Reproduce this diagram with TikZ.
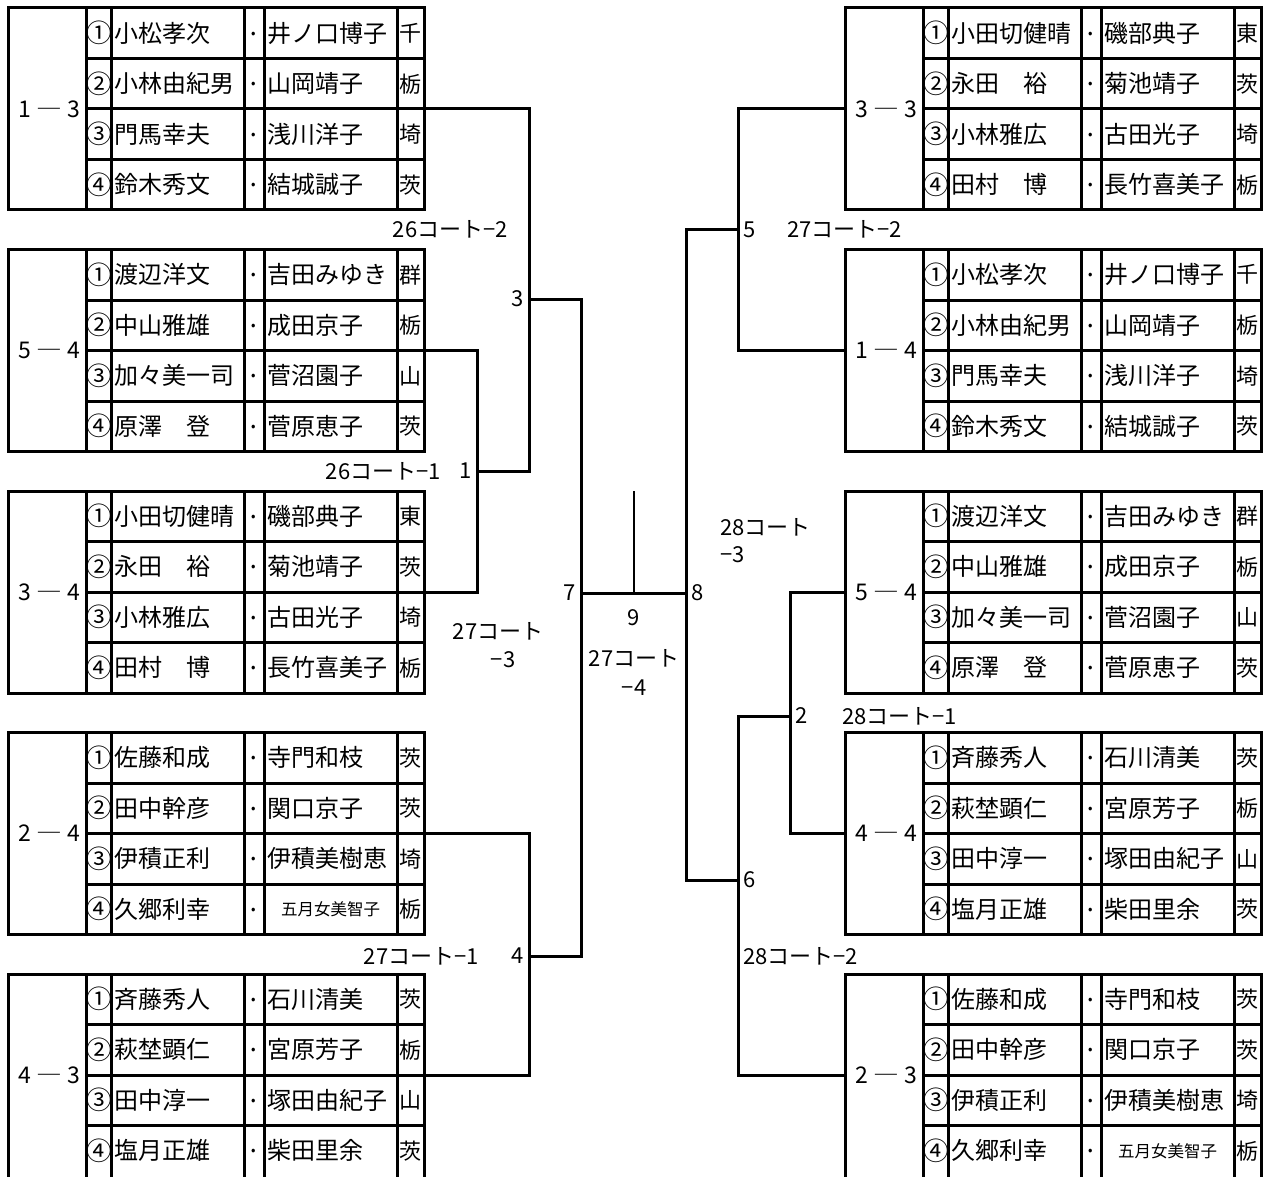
\documentclass[tikz,border=0pt]{standalone}
\usepackage{fontspec}
\usepackage{graphicx}
\setmainfont{Noto Sans CJK JP}
\usetikzlibrary{calc}
\def\bh{202}
\tikzset{
  grid/.style={line width=3pt},
  conn/.style={line width=3pt},
  thinconn/.style={line width=2pt},
  blockbox/.style={draw, line width=3pt, minimum width=416pt, minimum height=\bh pt, inner sep=0pt, outer sep=0pt},
  nametxt/.style={anchor=west, inner sep=0pt, font=\fontsize{24}{26}\selectfont},
  circtxt/.style={inner sep=0pt, font=\fontsize{25.5}{26}\selectfont},
  dottxt/.style={inner sep=0pt, font=\fontsize{26}{26}\selectfont},
  preftxt/.style={inner sep=0pt, font=\fontsize{22}{26}\selectfont},
  scoretxt/.style={inner sep=0pt, font=\fontsize{23}{26}\selectfont},
  lbl/.style={inner sep=0pt, font=\fontsize{22}{26}\selectfont},
}
\newcommand\sdash{\scalebox{1.12}[1]{―}}
\newcommand\smallnm[1]{\makebox[127pt][c]{\fontsize{16.5}{18}\selectfont #1}}
\newcommand\teamA{小松孝次/井ノ口博子/千,小林由紀男/山岡靖子/栃,門馬幸夫/浅川洋子/埼,鈴木秀文/結城誠子/茨}
\newcommand\teamB{渡辺洋文/吉田みゆき/群,中山雅雄/成田京子/栃,加々美一司/菅沼園子/山,原澤　登/菅原恵子/茨}
\newcommand\teamC{小田切健晴/磯部典子/東,永田　裕/菊池靖子/茨,小林雅広/古田光子/埼,田村　博/長竹喜美子/栃}
\newcommand\teamD{佐藤和成/寺門和枝/茨,田中幹彦/関口京子/茨,伊積正利/伊積美樹恵/埼,久郷利幸/\smallnm{五月女美智子}/栃}
\newcommand\teamE{斉藤秀人/石川清美/茨,萩埜顕仁/宮原芳子/栃,田中淳一/塚田由紀子/山,塩月正雄/柴田里余/茨}
\newcommand\teamblock[5]{%
  \node[blockbox, anchor=north west] (#1) at (#2,#3) {};
  \begin{scope}[shift={(#1.north west)}]
    \foreach \cx in {78,103,236,256,389} \draw[grid] (\cx,0) -- (\cx,\bh);
    \foreach \ry in {1,2,3} \draw[grid] (78,\ry*50.5) -- (416,\ry*50.5);
    \coordinate (#1w) at (0,101);
    \coordinate (#1e) at (416,101);
    \node[scoretxt] (#1s) at (41,101) {#4};
    \foreach \nm/\pt/\pf [count=\i] in #5 {
      \node[circtxt] (#1c\i) at (91,{(\i-0.5)*50.5}) {\ifcase\i\or ①\or ②\or ③\or ④\fi};
      \node[nametxt] (#1n\i) at (106,{(\i-0.5)*50.5}) {\nm};
      \node[dottxt] (#1d\i) at (246,{(\i-0.5)*50.5}) {\vphantom{字}·};
      \node[nametxt] (#1p\i) at (259,{(\i-0.5)*50.5}) {\pt};
      \node[preftxt] (#1f\i) at (402.5,{(\i-0.5)*50.5}) {\pf};
    }
  \end{scope}
}
\begin{document}
\begin{tikzpicture}[x=1pt,y=-1pt]
\useasboundingbox (0,0) rectangle (1269,1177);
\clip (0,0) rectangle (1269,1177);
% left blocks
\teamblock{L1}{8}{8}{1 \sdash{} 3}{\teamA}
\teamblock{L2}{8}{249.5}{5 \sdash{} 4}{\teamB}
\teamblock{L3}{8}{491}{3 \sdash{} 4}{\teamC}
\teamblock{L4}{8}{732.5}{2 \sdash{} 4}{\teamD}
\def\bh{215}
\teamblock{L5}{8}{974}{4 \sdash{} 3}{\teamE}
\def\bh{202}
% right blocks
\teamblock{R1}{845}{8}{3 \sdash{} 3}{\teamC}
\teamblock{R2}{845}{249.5}{1 \sdash{} 4}{\teamA}
\teamblock{R3}{845}{491}{5 \sdash{} 4}{\teamB}
\teamblock{R4}{845}{732.5}{4 \sdash{} 4}{\teamE}
\def\bh{215}
\teamblock{R5}{845}{974}{2 \sdash{} 3}{\teamD}
\def\bh{202}
% match points
\coordinate (m1) at (477,471);
\coordinate (m3) at (529,299);
\coordinate (m4) at (529,956);
\coordinate (m7) at (581,593);
\coordinate (m9) at (634,593);
\coordinate (m9t) at (634,491);
\coordinate (m8) at (686,593);
\coordinate (m5) at (738,230);
\coordinate (m2) at (790,716);
\coordinate (m6) at (738,880);
% connectors
\draw[conn] (L2e) -| (m1) |- (L3e);
\draw[conn] (L1e) -| (m3) |- (m1);
\draw[conn] (L4e) -| (m4) |- (L5e);
\draw[conn] (m3) -| (m7) |- (m4);
\draw[conn] (m7) -- (m8);
\draw[thinconn] (m9) -- (m9t);
\draw[conn] (m5) -| (m8) |- (m6);
\draw[conn] (R1w) -| (m5) |- (R2w);
\draw[conn] (R3w) -| (m2) |- (R4w);
\draw[conn] (m2) -| (m6) |- (R5w);
% labels
\node[lbl, anchor=east] (c262) at (508,229) {26コート−2};
\node[lbl, anchor=east] (n3) at (524,299) {3};
\node[lbl, anchor=east] (c261) at (441,471) {26コート−1};
\node[lbl, anchor=east] (n1) at (472,471) {1};
\node[lbl] (c273a) at (498,631) {27コート};
\node[lbl] (c273b) at (503,660) {−3};
\node[lbl, anchor=east] (n7) at (576,593) {7};
\node[lbl] (n9) at (634,618) {9};
\node[lbl] (c274a) at (634,658) {27コート};
\node[lbl] (c274b) at (634,688) {−4};
\node[lbl, anchor=west] (n8) at (691,593) {8};
\node[lbl, anchor=west] (c283a) at (720,527) {28コート};
\node[lbl, anchor=west] (c283b) at (720,555) {−3};
\node[lbl, anchor=west] (n5) at (743,230) {5};
\node[lbl, anchor=west] (c272) at (787,229) {27コート−2};
\node[lbl, anchor=west] (n2) at (795,716) {2};
\node[lbl, anchor=west] (c281) at (842,716) {28コート−1};
\node[lbl, anchor=west] (n6) at (743,880) {6};
\node[lbl, anchor=west] (c282) at (743,956) {28コート−2};
\node[lbl, anchor=east] (c271) at (479,956) {27コート−1};
\node[lbl, anchor=east] (n4) at (524,956) {4};
\end{tikzpicture}
\end{document}
